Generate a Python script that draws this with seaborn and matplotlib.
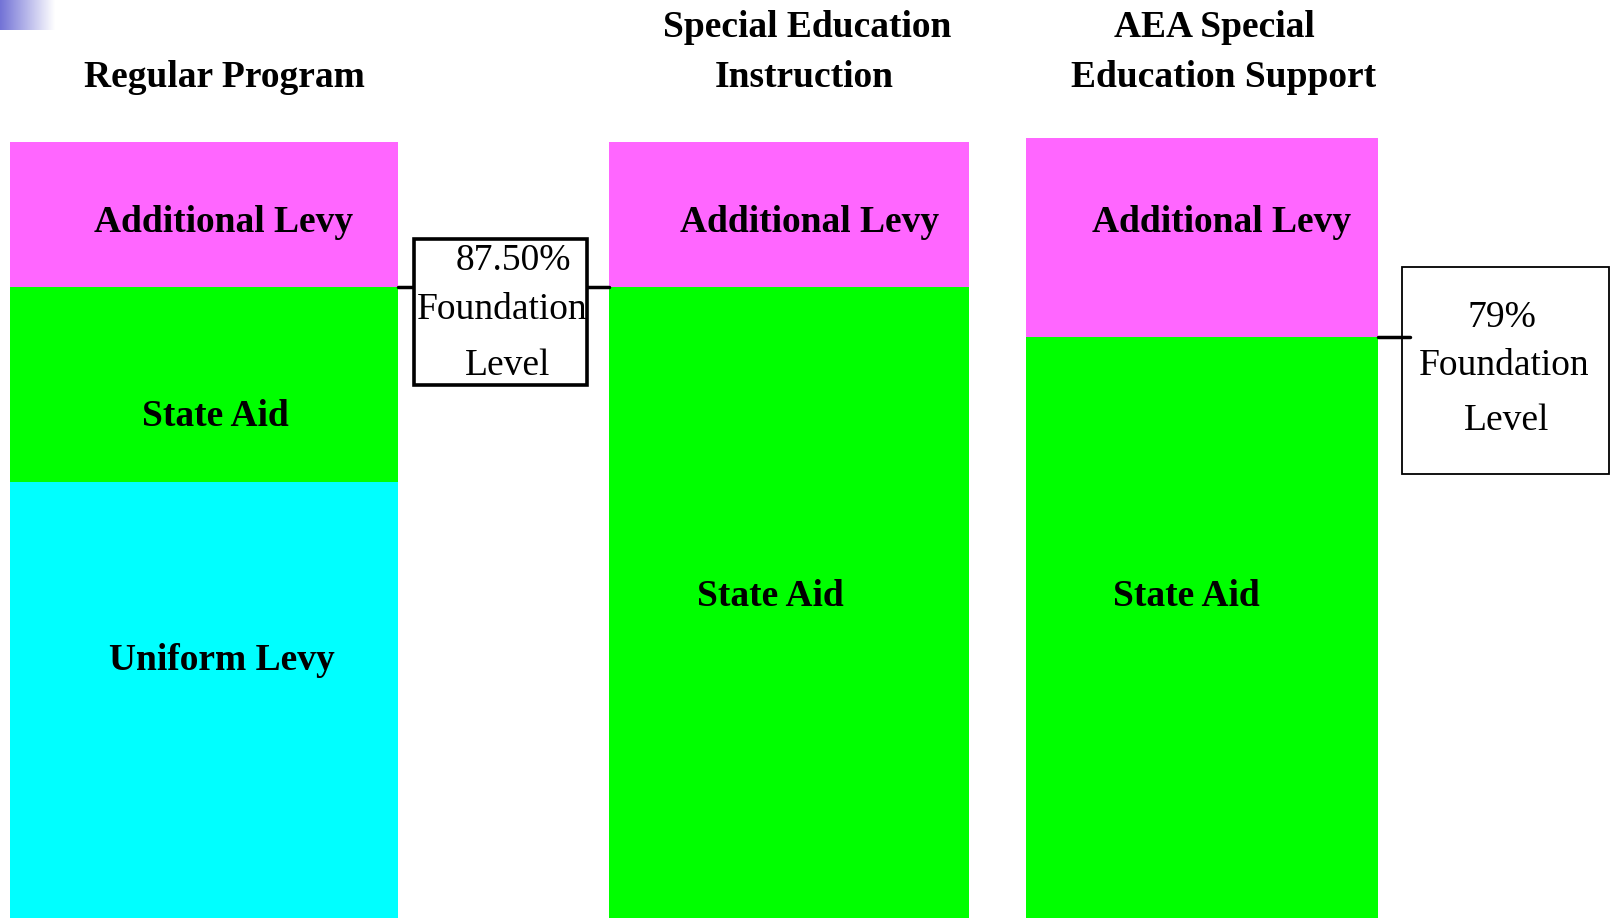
import numpy as np
import pandas as pd
import seaborn as sns
import matplotlib
matplotlib.use("Agg")
import matplotlib.pyplot as plt
from matplotlib.patches import Rectangle

# ---- data ----
programs = ["Regular Program", "Special Education\nInstruction", "AEA Special\nEducation Support"]
uniform_levy = [47.5, 0.0, 0.0]
state_aid = [21.2, 68.7, 63.3]
additional_levy = [15.8, 15.8, 21.7]
segment_names = ["Uniform Levy", "State Aid", "Additional Levy"]
foundation_pct = ["87.50%", "79%"]

# ---- layout (pixel-based x axis, 0..100 units on y) ----
W, H = 1615, 918
bar_left = [10.3, 608.7, 1025.9]
bar_width = [387.3, 360.5, 352.1]
colors = {"Uniform Levy": "#00FFFF", "State Aid": "#00FF00", "Additional Levy": "#FF66FF"}

sns.set_theme(style="white")
plt.rcParams["font.family"] = ["Liberation Serif", "DejaVu Serif"]

fig = plt.figure(figsize=(W / 100, H / 100), dpi=100)
ax = fig.add_axes([0, 0, 1, 1])
ax.set_xlim(0, W)
ax.set_ylim(0, 100)
ax.axis("off")

df = pd.DataFrame({"program": programs, "Uniform Levy": uniform_levy,
                   "State Aid": state_aid, "Additional Levy": additional_levy})
bottom = np.zeros(len(df))
for seg in segment_names:
    vals = df[seg].to_numpy()
    ax.bar(bar_left, vals, width=bar_width, bottom=bottom, align="edge",
           color=colors[seg], edgecolor="none", linewidth=0)
    bottom = bottom + vals

# gradient corner
grad = np.linspace(0, 1, 256).reshape(1, -1)
cmap = matplotlib.colors.LinearSegmentedColormap.from_list("g", ["#7272d6", "#ffffff"])
ax.imshow(grad, cmap=cmap, extent=[0, 55, 100 - 30 / 9.18, 100], aspect="auto", zorder=0)
ax.set_xlim(0, W)
ax.set_ylim(0, 100)

FS = 27
dy = -0.3
title_kw = dict(fontsize=FS, fontweight="bold", ha="center", va="center", color="black")
t1, t2 = programs[1].split("\n")
t3, t4 = programs[2].split("\n")
ax.text(224, 91.9 + dy, programs[0], **title_kw)
ax.text(807, 97.3 + dy, t1, **title_kw)
ax.text(804, 91.9 + dy, t2, **title_kw)
ax.text(1214, 97.3 + dy, t3, **title_kw)
ax.text(1224, 91.9 + dy, t4, **title_kw)

lab_kw = dict(fontsize=FS, fontweight="bold", ha="center", va="center", color="black")
ax.text(223.5, 76.1 + dy, "Additional Levy", **lab_kw)
ax.text(809.6, 76.1 + dy, "Additional Levy", **lab_kw)
ax.text(1221.6, 76.1 + dy, "Additional Levy", **lab_kw)
ax.text(215, 54.9 + dy, "State Aid", **lab_kw)
ax.text(221.5, 28.4 + dy, "Uniform Levy", **lab_kw)
ax.text(770, 35.3 + dy, "State Aid", **lab_kw)
ax.text(1186.6, 35.3 + dy, "State Aid", **lab_kw)

def py(p):
    return (H - p) / (H / 100)

# foundation level 1 (regular & special ed)
lvl1 = uniform_levy[0] + state_aid[0]
ax.plot([bar_left[0] + bar_width[0], bar_left[1]], [lvl1, lvl1], color="black", lw=2.5, zorder=3)
ax.add_patch(Rectangle((414, py(385)), 587 - 414, py(239) - py(385),
                       facecolor="white", edgecolor="black", lw=2.6, zorder=4))
box_kw = dict(fontsize=FS, ha="center", va="center", color="black", zorder=5)
ax.text(513, py(257.5) + dy, foundation_pct[0], **box_kw)
ax.text(502.6, py(307) + dy, "Foundation", **box_kw)
ax.text(507.8, py(362.5) + dy, "Level", **box_kw)

# foundation level 2 (AEA)
lvl2 = state_aid[2]
ax.plot([bar_left[2] + bar_width[2], 1410], [lvl2, lvl2], color="black", lw=2.5, zorder=5)
ax.add_patch(Rectangle((1402, py(474)), 1609 - 1402, py(267) - py(474),
                       facecolor="white", edgecolor="black", lw=1.3, zorder=4))
ax.text(1502, py(315) + dy, foundation_pct[1], **box_kw)
ax.text(1504, py(362.6) + dy, "Foundation", **box_kw)
ax.text(1507, py(418) + dy, "Level", **box_kw)

fig.savefig("out.png", dpi=100)
